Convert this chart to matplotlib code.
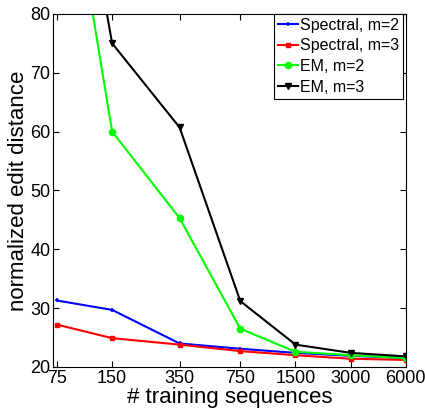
import matplotlib
matplotlib.use("Agg")
import matplotlib.pyplot as plt

plt.rcParams['font.family'] = ['Liberation Sans', 'DejaVu Sans']

n_train = [75, 150, 350, 750, 1500, 3000, 6000]
spectral_m2 = [31.3, 29.7, 24.0, 23.1, 22.4, 21.9, 21.5]
spectral_m3 = [27.2, 24.9, 23.8, 22.7, 22.0, 21.4, 21.2]
em_m2 = [117.0, 60.0, 45.3, 26.5, 22.6, 22.0, 21.5]
em_m3 = [128.0, 75.0, 60.7, 31.2, 23.8, 22.4, 21.8]

fig = plt.figure(figsize=(4.25, 4.08), dpi=100)
ax = fig.add_axes([0.125, 0.1005, 0.83, 0.8655])

ax.plot(n_train, spectral_m2, '+-', color='#0000ff', lw=1.5, ms=3.5, mew=1.2, label='Spectral, m=2')
ax.plot(n_train, spectral_m3, 's-', color='#ff0000', lw=1.5, ms=3.5, label='Spectral, m=3')
ax.plot(n_train, em_m2, 'o-', color='#00ff00', lw=1.5, ms=4.5, label='EM, m=2')
ax.plot(n_train, em_m3, 'v-', color='black', lw=1.5, ms=4.5, label='EM, m=3')

ax.set_xscale('log')
ax.set_xlim(71.5, 6000)
ax.set_ylim(20, 80)
ax.set_xticks(n_train)
ax.set_xticklabels([str(v) for v in n_train])
ax.minorticks_off()
ax.set_yticks(range(20, 81, 10))
ax.tick_params(direction='in', top=True, right=True, labelsize=13, length=4, width=0.8, pad=2)

ax.set_xlabel('# training sequences', fontsize=16, labelpad=0)
ax.set_ylabel('normalized edit distance', fontsize=16, labelpad=1)

leg = ax.legend(loc='upper right', bbox_to_anchor=(0.992, 1.0), fontsize=11.5, handlelength=1.3,
                handletextpad=0.1, borderpad=0.25, labelspacing=0.35, borderaxespad=0,
                fancybox=False, framealpha=1, edgecolor='black')
leg.get_frame().set_linewidth(0.8)

fig.savefig('out.png', dpi=100)
